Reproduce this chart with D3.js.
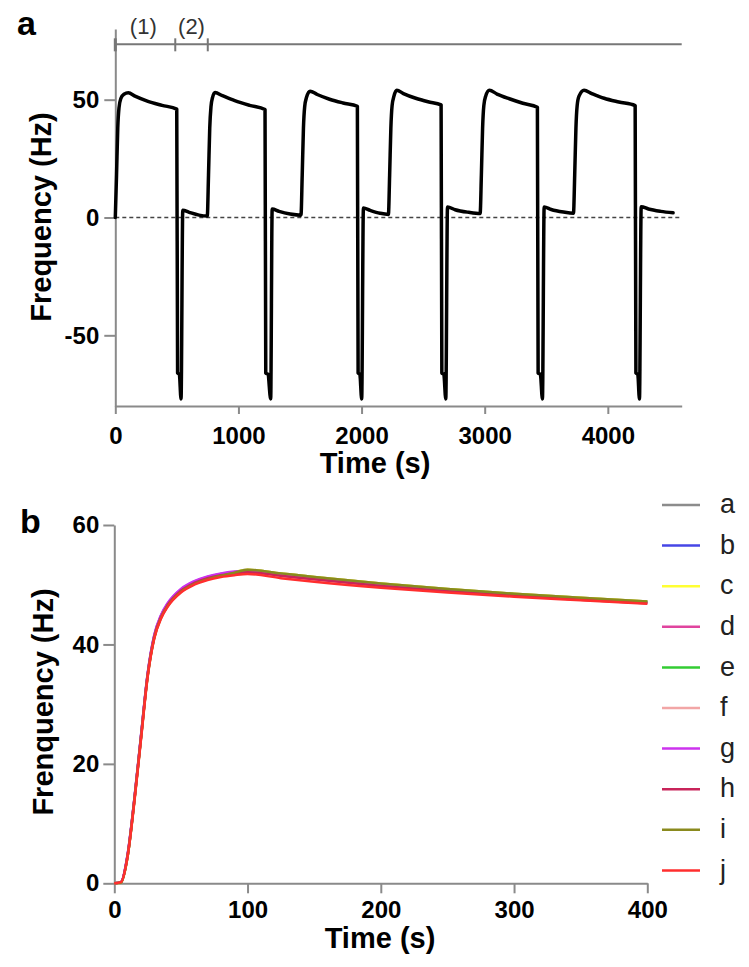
<!DOCTYPE html>
<html>
<head>
<meta charset="utf-8">
<script src="https://cdn.jsdelivr.net/npm/d3@7"></script>
<style>
  html, body { margin: 0; padding: 0; background: #fff; }
  svg { display: block; font-family: "Liberation Sans", Arial, Helvetica, sans-serif; }
</style>
</head>
<body>
<svg id="chart" width="749" height="967"></svg>
<script>
// ---------------- Panel a data ----------------
const traceTime = [
  0, 10, 20, 30, 45, 70, 106, 160, 260, 380, 499, 506, 520, 534, 548, 600, 680,
  747, 757, 767, 777, 790, 810, 870, 970, 1090, 1216, 1222, 1240, 1262, 1274, 1330, 1420,
  1508, 1518, 1528, 1538, 1553, 1582, 1640, 1740, 1850, 1966, 1972, 1986, 2001, 2015, 2070, 2150,
  2218, 2228, 2238, 2248, 2263, 2286, 2340, 2440, 2540, 2646, 2652, 2668, 2684, 2698, 2760, 2870,
  2963, 2973, 2983, 2993, 3008, 3038, 3100, 3200, 3310, 3428, 3434, 3452, 3469, 3483, 3540, 3640,
  3721, 3731, 3741, 3751, 3766, 3807, 3870, 3970, 4090, 4222, 4228, 4243, 4257, 4271, 4330, 4430, 4530
];
const traceFreq = [
  0, 18, 38, 46.5, 50.5, 52.3, 52.9, 51.5, 49.4, 47.6, 46.0, -66, -66.5, -77, 3.1, 2.2, 1.0,
  0.6, 18, 38, 47, 51, 53.0, 51.7, 49.6, 47.6, 45.8, -66, -66.5, -77, 3.6, 2.6, 1.5,
  1.0, 18, 38, 47, 51, 53.6, 52.2, 50.2, 48.6, 47.2, -66, -66.5, -77, 4.0, 3.0, 1.8,
  1.3, 18, 38, 47.5, 51.5, 54.0, 52.6, 50.6, 49.1, 47.8, -66, -66.5, -77, 4.5, 3.3, 2.2,
  1.7, 18, 38, 47.5, 51.5, 54.0, 52.4, 50.4, 48.5, 46.8, -66, -66.5, -77, 4.5, 3.4, 2.3,
  1.8, 18, 38, 47.5, 51.5, 54.0, 52.6, 50.6, 49.0, 47.5, -66, -66.5, -77, 4.6, 3.6, 2.6, 2.0
];
const xTicksA = [0, 1000, 2000, 3000, 4000];
const yTicksA = [-50, 0, 50];
const bracketEdges = [0, 487, 751];
const bracketLabels = ["(1)", "(2)"];
const bracketLevel = 73.5;

// ---------------- Panel b data ----------------
const timeB = [0, 5, 10, 15, 20, 25, 30, 35, 40, 50, 60, 70, 80, 90, 100, 125, 150, 200, 250, 300, 350, 400];
const seriesNames = ["a", "b", "c", "d", "e", "f", "g", "h", "i", "j"];
const seriesColors = ["#8c8c8c", "#4646e6", "#ffff33", "#e0449e", "#33cc33", "#f2a6a6", "#cc33ee", "#c8245a", "#8a8a1e", "#ff2e2e"];
const sA = [0, 0.2, 4.6, 13.8, 24.4, 34.8, 41.3, 44.6, 46.6, 49.0, 50.3, 51.1, 51.7, 52.1, 52.5, 51.9, 51.3, 50.2, 49.3, 48.5, 47.8, 47.2];
const sB = [0, 0.2, 4.8, 14.0, 24.6, 35.0, 41.5, 44.8, 46.8, 49.2, 50.5, 51.3, 51.8, 52.1, 52.3, 51.7, 51.1, 50.0, 49.1, 48.4, 47.7, 47.1];
const sC = [0, 0.1, 4.5, 13.7, 24.3, 34.7, 41.2, 44.5, 46.5, 48.9, 50.2, 51.0, 51.6, 52.1, 52.5, 51.9, 51.3, 50.2, 49.3, 48.5, 47.8, 47.2];
const sD = [0, 0.2, 4.7, 13.9, 24.5, 34.9, 41.4, 44.7, 46.7, 49.1, 50.4, 51.2, 51.7, 52.0, 52.2, 51.6, 51.0, 49.9, 49.0, 48.3, 47.6, 47.0];
const sE = [0, 0.2, 4.6, 13.8, 24.4, 34.8, 41.3, 44.6, 46.6, 49.0, 50.3, 51.1, 51.6, 52.0, 52.4, 51.8, 51.2, 50.1, 49.2, 48.4, 47.7, 47.1];
const sF = [0, 0.2, 4.6, 13.8, 24.3, 34.7, 41.2, 44.5, 46.5, 48.9, 50.2, 51.0, 51.5, 51.9, 52.1, 51.5, 50.9, 49.8, 48.9, 48.2, 47.5, 46.9];
const sG = [0, 0.2, 4.9, 14.1, 24.7, 35.1, 41.6, 44.9, 46.9, 49.3, 50.6, 51.4, 51.9, 52.2, 52.3, 51.6, 51.0, 49.9, 49.0, 48.3, 47.6, 47.0];
const sH = [0, 0.2, 4.7, 13.9, 24.4, 34.8, 41.3, 44.6, 46.6, 49.0, 50.3, 51.1, 51.6, 51.9, 52.1, 51.5, 50.9, 49.8, 48.9, 48.2, 47.5, 46.9];
const sI = [0, 0.1, 4.5, 13.7, 24.2, 34.6, 41.1, 44.4, 46.4, 48.8, 50.1, 50.9, 51.5, 52.0, 52.5, 51.9, 51.3, 50.2, 49.3, 48.5, 47.8, 47.2];
const sJ = [0, 0.2, 4.5, 13.5, 24.0, 34.5, 41.0, 44.3, 46.3, 48.7, 50.0, 50.8, 51.3, 51.6, 51.8, 51.1, 50.5, 49.5, 48.7, 48.0, 47.4, 46.8];
const seriesValues = [sA, sB, sC, sD, sE, sF, sG, sH, sI, sJ];
const xTicksB = [0, 100, 200, 300, 400];
const yTicksB = [0, 20, 40, 60];

// ---------------- Drawing ----------------
const svg = d3.select("#chart");
const axisColor = "#8a8a8a";
const fontFamily = '"Liberation Sans", Arial, Helvetica, sans-serif';

function styleAxis(g, fontSize) {
  g.select(".domain").attr("stroke", axisColor).attr("stroke-width", 2);
  g.selectAll(".tick line").attr("stroke", axisColor).attr("stroke-width", 2);
  g.selectAll(".tick text")
    .attr("fill", "#000")
    .attr("font-family", fontFamily)
    .attr("font-weight", "bold")
    .attr("font-size", fontSize);
}

// ===== Panel a =====
const xA = d3.scaleLinear().domain([0, 4600]).range([115.3, 681.7]);
const yA = d3.scaleLinear().domain([-80, 80]).range([406, 29]);

const gA = svg.append("g");

gA.append("g")
  .attr("transform", `translate(0,${yA(-80)})`)
  .call(d3.axisBottom(xA).tickValues(xTicksA).tickSizeInner(8).tickSizeOuter(0).tickPadding(13).tickFormat(d => String(d)))
  .call(g => styleAxis(g, 24));

gA.append("g")
  .attr("transform", `translate(${xA(0)},0)`)
  .call(d3.axisLeft(yA).tickValues(yTicksA).tickSizeInner(11).tickSizeOuter(0).tickPadding(5).tickFormat(d => String(d)))
  .call(g => styleAxis(g, 24));

// dashed zero line
gA.append("line")
  .attr("x1", xA(0)).attr("x2", xA(4600))
  .attr("y1", yA(0)).attr("y2", yA(0))
  .attr("stroke", "#444").attr("stroke-width", 1.5)
  .attr("stroke-dasharray", "4,3");

// bracket
gA.append("line")
  .attr("x1", xA(0)).attr("x2", xA(4600))
  .attr("y1", yA(bracketLevel)).attr("y2", yA(bracketLevel))
  .attr("stroke", "#777").attr("stroke-width", 2);
gA.selectAll(".bt").data(bracketEdges).enter().append("line")
  .attr("x1", d => xA(d)).attr("x2", d => xA(d))
  .attr("y1", yA(bracketLevel) - 6).attr("y2", yA(bracketLevel) + 7)
  .attr("stroke", "#777").attr("stroke-width", (d, i) => i === 0 ? 3 : 2);
gA.selectAll(".bl").data(bracketLabels).enter().append("text")
  .attr("x", (d, i) => (xA(bracketEdges[i]) + xA(bracketEdges[i + 1])) / 2 + (i === 0 ? -2 : 0))
  .attr("y", yA(bracketLevel) - 10)
  .attr("text-anchor", "middle")
  .attr("font-family", fontFamily)
  .attr("font-size", 22)
  .attr("fill", "#333")
  .text(d => d);

// trace
const traceData = traceTime.map((t, i) => [t, traceFreq[i]]);
gA.append("path")
  .datum(traceData)
  .attr("fill", "none")
  .attr("stroke", "#000")
  .attr("stroke-width", 3.5)
  .attr("stroke-linejoin", "round")
  .attr("stroke-linecap", "round")
  .attr("d", d3.line().x(d => xA(d[0])).y(d => yA(d[1])).curve(d3.curveMonotoneX));

// titles
gA.append("text")
  .attr("x", 375).attr("y", 473)
  .attr("text-anchor", "middle")
  .attr("font-family", fontFamily).attr("font-weight", "bold").attr("font-size", 29)
  .text("Time (s)");
gA.append("text")
  .attr("transform", "translate(51,217) rotate(-90)")
  .attr("text-anchor", "middle")
  .attr("font-family", fontFamily).attr("font-weight", "bold").attr("font-size", 29)
  .text("Frequency (Hz)");
gA.append("text")
  .attr("x", 17).attr("y", 35)
  .attr("font-family", fontFamily).attr("font-weight", "bold").attr("font-size", 34)
  .text("a");

// ===== Panel b =====
const xB = d3.scaleLinear().domain([0, 400]).range([114.3, 647.3]);
const yB = d3.scaleLinear().domain([0, 60]).range([883.3, 525]);
const gB = svg.append("g");

gB.append("g")
  .attr("transform", `translate(0,${yB(0)})`)
  .call(d3.axisBottom(xB).tickValues(xTicksB).tickSizeInner(10).tickSizeOuter(0).tickPadding(8).tickFormat(d => String(d)))
  .call(g => styleAxis(g, 24));

gB.append("g")
  .attr("transform", `translate(${xB(0)},0)`)
  .call(d3.axisLeft(yB).tickValues(yTicksB).tickSizeInner(11).tickSizeOuter(0).tickPadding(4).tickFormat(d => String(d)))
  .call(g => styleAxis(g, 24));

const lineB = d3.line().x(d => xB(d[0])).y(d => yB(d[1])).curve(d3.curveMonotoneX);
seriesValues.forEach((vals, i) => {
  gB.append("path")
    .datum(timeB.map((t, k) => [t, vals[k]]))
    .attr("fill", "none")
    .attr("stroke", seriesColors[i])
    .attr("stroke-width", 2.5)
    .attr("stroke-linejoin", "round")
    .attr("d", lineB);
});

// legend
const legend = gB.append("g");
seriesNames.forEach((name, i) => {
  const y = 505 + i * 40.6;
  legend.append("line")
    .attr("x1", 662).attr("x2", 700).attr("y1", y).attr("y2", y)
    .attr("stroke", seriesColors[i]).attr("stroke-width", 2.5);
  legend.append("text")
    .attr("x", 720).attr("y", y)
    .attr("dy", "0.3em")
    .attr("font-family", fontFamily).attr("font-size", 27).attr("fill", "#222")
    .text(name);
});

gB.append("text")
  .attr("x", 380).attr("y", 948)
  .attr("text-anchor", "middle")
  .attr("font-family", fontFamily).attr("font-weight", "bold").attr("font-size", 29)
  .text("Time (s)");
gB.append("text")
  .attr("transform", "translate(53,702) rotate(-90)")
  .attr("text-anchor", "middle")
  .attr("font-family", fontFamily).attr("font-weight", "bold").attr("font-size", 29)
  .text("Frenquency (Hz)");
gB.append("text")
  .attr("x", 20).attr("y", 533)
  .attr("font-family", fontFamily).attr("font-weight", "bold").attr("font-size", 34)
  .text("b");
</script>
</body>
</html>
